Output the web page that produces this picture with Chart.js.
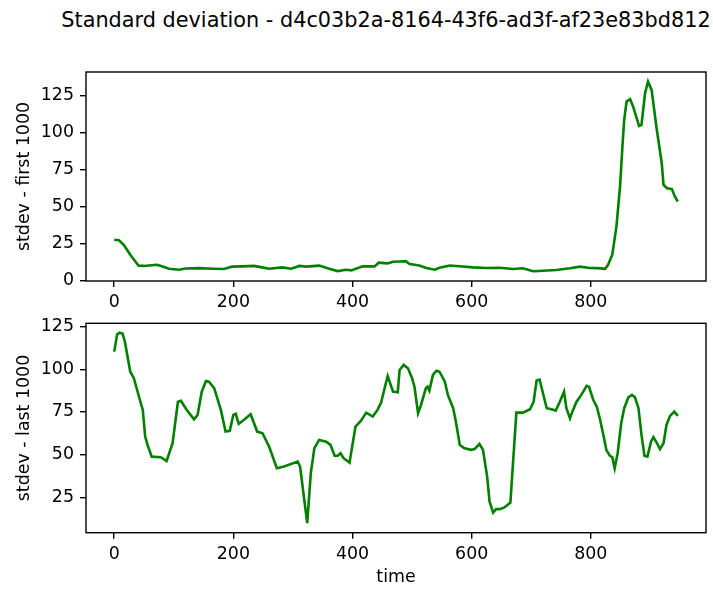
<!DOCTYPE html>
<html><head><meta charset="utf-8">
<script src="https://cdn.jsdelivr.net/npm/chart.js@4"></script>
<style>
html,body{margin:0;padding:0;background:#fff;overflow:hidden;width:713px;height:590px;}
#title{position:absolute;left:386px;top:9.6px;transform:translateX(-50%);font-family:"DejaVu Sans";font-size:20.8px;line-height:1;white-space:nowrap;color:#000;}
#c1{position:absolute;left:0;top:0;}
#c2{position:absolute;left:0;top:310px;}
</style></head><body>
<div id="title">Standard deviation - d4c03b2a-8164-43f6-ad3f-af23e83bd812</div>
<canvas id="c1" width="713" height="310"></canvas>
<canvas id="c2" width="713" height="280"></canvas>
<script>
const xTicks = [0, 200, 400, 600, 800];
const yTicksTop = [0, 25, 50, 75, 100, 125];
const yTicksBottom = [25, 50, 75, 100, 125];

const xTop = [0,8,16,27,41,50,58,72,80,92,109,120,142,165,184,198,215,235,248,260,282,297,311,322,344,361,375,389,398,417,437,444,459,468,480,489,496,512,524,538,546,563,580,602,625,647,669,686,703,720,742,765,782,798,812,824,829,836,843,849,853,856,860,866,871,881,885,891,896,902,910,919,922,928,936,941,946];
const yTop = [27.5,27.2,24.1,17.4,9.9,9.8,10.1,10.6,9.6,7.9,7.2,8.1,8.3,7.9,7.7,9.3,9.5,9.8,8.8,7.9,8.8,7.9,9.8,9.3,10.0,7.9,6.3,7.2,6.8,9.6,9.5,12.0,11.5,12.6,12.8,13.0,11.1,10.1,8.4,7.2,8.6,10.1,9.6,8.8,8.4,8.6,7.7,8.2,6.2,6.5,7.0,8.2,9.3,8.4,8.3,7.8,10.6,17.4,36.5,63.5,90.5,108.6,121,122.6,117.6,104.5,105.2,126.6,134.5,128.9,104.1,79.3,64.7,62.4,61.8,56.8,53.4];

const xBottom = [0,5,9,14,18,27,33,44,48,52,56,63,78,88,98,107,112,121,134,140,147,154,159,168,179,187,194,200,204,209,218,229,240,249,260,273,285,308,312,324,330,336,344,356,363,370,375,380,385,395,405,414,423,434,442,448,459,468,476,479,486,493,500,504,510,515,523,526,529,535,541,546,555,560,569,574,580,587,599,605,613,619,626,630,636,641,647,655,665,675,686,698,704,709,714,717,726,734,741,748,755,759,765,769,776,784,793,797,804,810,815,821,826,832,836,840,845,851,856,863,869,874,880,885,890,895,901,905,911,916,922,927,933,940,946];
const yBottom = [110.4,120.5,121.5,121,116.2,98.6,94.8,81,76.2,60.6,55.7,48.8,48.5,46.3,56.7,81,81.5,76.6,70.7,73.3,86.9,93.2,92.8,88.9,76.2,63.5,63.9,73.3,73.9,68,70.5,73.7,63.5,62.5,54.7,42,43,45.9,43,9.8,39.1,53.8,58.6,57.6,55.7,49.3,49.3,50.8,47.9,45.3,66.4,69.8,74.6,72.3,76.2,80.5,96.1,86.9,86.5,99.6,102.6,100.6,94.8,89.8,74.3,79.1,88.9,89.8,87.5,96.7,99.2,98.6,92.8,85,77.2,68.4,55.7,53.8,52.8,53.2,56.3,52.8,37.1,22.5,16,18,18,19,21.9,74.6,74.6,76.6,81,93.5,94,89.8,77.2,76.6,75.8,81,86.9,77.2,71.3,75.2,81,85,90.3,89.8,82.1,78.1,71.3,61.6,52.8,49.3,48.5,42,50.8,68.4,77.2,83.6,85,83.6,77.2,61.6,49.3,48.8,57.6,60.2,56.7,53.2,56.7,67.4,72.7,75.2,72.7];

const FONT = 'DejaVu Sans';
const frame = {
  id: 'frame',
  afterDatasetsDraw(chart) {
    const {ctx, chartArea: a} = chart;
    ctx.save();
    ctx.strokeStyle = '#000';
    ctx.lineWidth = 1.4;
    ctx.strokeRect(a.left, a.top, a.right - a.left, a.bottom - a.top);
    ctx.restore();
  }
};

function makeChart(id, xs, ys, cfg) {
  return new Chart(document.getElementById(id), {
    type: 'line',
    data: { datasets: [{
      data: xs.map((x, i) => ({x: x, y: ys[i]})),
      borderColor: '#008000', borderWidth: 2.6, pointRadius: 0, tension: 0, fill: false
    }]},
    options: {
      responsive: false, animation: false, devicePixelRatio: 1,
      layout: { padding: { left: 0, right: 7, top: cfg.padTop, bottom: 0 } },
      plugins: { legend: { display: false }, tooltip: { enabled: false }, title: { display: false } },
      scales: {
        x: {
          type: 'linear', min: -47.3, max: 993.3,
          afterBuildTicks: s => { s.ticks = xTicks.map(v => ({value: v})); },
          afterFit: s => { s.height = cfg.xHeight; s.paddingLeft = 0; s.paddingRight = 0; },
          grid: { drawOnChartArea: false, drawTicks: true, tickLength: 6, color: '#000', lineWidth: 1.4 },
          border: { display: false },
          ticks: { padding: 5, color: '#000', font: { family: FONT, size: 17.4 }, maxRotation: 0, autoSkip: false },
          title: { display: !!cfg.xTitle, text: cfg.xTitle || '', color: '#000', font: { family: FONT, size: 17.4 }, padding: { top: 0, bottom: 2.2 } }
        },
        y: {
          type: 'linear', min: cfg.yMin, max: cfg.yMax,
          afterBuildTicks: s => { s.ticks = cfg.yTicks.map(v => ({value: v})); },
          afterFit: s => { s.width = 86; s.paddingTop = 0; s.paddingBottom = 0; },
          grid: { drawOnChartArea: false, drawTicks: true, tickLength: 6, color: '#000', lineWidth: 1.4 },
          border: { display: false },
          ticks: { padding: 6, color: '#000', font: { family: FONT, size: 17.4 }, autoSkip: false },
          title: { display: true, text: cfg.yTitle, color: '#000', font: { family: FONT, size: 17.4 }, padding: { top: 13.6, bottom: 0 } }
        }
      }
    },
    plugins: [frame]
  });
}

makeChart('c1', xTop, yTop, { padTop: 72, xHeight: 29, yMin: -0.4, yMax: 141, yTicks: yTicksTop, yTitle: 'stdev - first 1000' });
makeChart('c2', xBottom, yBottom, { padTop: 13.3, xHeight: 57.3, yMin: 4.2, yMax: 127, yTicks: yTicksBottom, yTitle: 'stdev - last 1000', xTitle: 'time' });
</script>
</body></html>
